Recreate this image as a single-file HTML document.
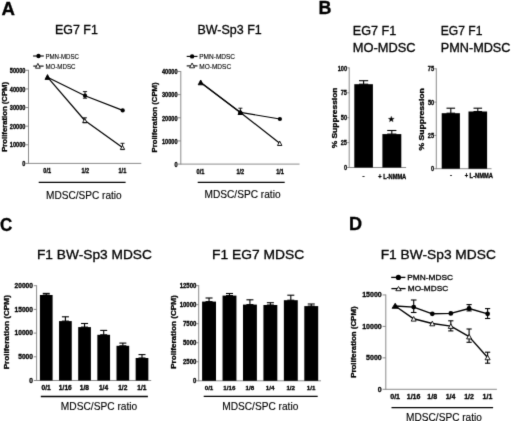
<!DOCTYPE html><html><head><meta charset="utf-8"><style>html,body{margin:0;padding:0;background:#fff;width:520px;height:421px;overflow:hidden}svg{display:block}#w{filter:grayscale(1)}text{font-family:"Liberation Sans",sans-serif;fill:#000;stroke:#000}</style></head><body>
<div id="w"><svg width="520" height="421" viewBox="0 0 520 421">
<defs><filter id="bl" x="0" y="0" width="520" height="421" filterUnits="userSpaceOnUse" color-interpolation-filters="sRGB"><feConvolveMatrix order="3" kernelMatrix="0.0113 0.0838 0.0113 0.0838 0.6193 0.0838 0.0113 0.0838 0.0113" edgeMode="duplicate"/></filter></defs>
<g filter="url(#bl)">
<rect width="520" height="421" fill="#fff"/>
<text x="1.64" y="14.60" font-size="18.2" font-weight="bold" textLength="13.46" lengthAdjust="spacingAndGlyphs" stroke-width="0.3">A</text>
<text x="318.60" y="13.70" font-size="18.2" font-weight="bold" textLength="12.91" lengthAdjust="spacingAndGlyphs" stroke-width="0.3">B</text>
<text x="0.00" y="230.70" font-size="18.2" font-weight="bold" textLength="12.26" lengthAdjust="spacingAndGlyphs" stroke-width="0.3">C</text>
<text x="349.09" y="230.30" font-size="18.2" font-weight="bold" textLength="13.07" lengthAdjust="spacingAndGlyphs" stroke-width="0.3">D</text>
<text x="54.98" y="33.70" font-size="12.8" textLength="42.83" lengthAdjust="spacingAndGlyphs" stroke-width="0.3">EG7 F1</text>
<line x1="28.50" y1="163.85" x2="28.50" y2="69.85" stroke="#858585" stroke-width="0.95"/>
<line x1="25.60" y1="163.40" x2="28.50" y2="163.40" stroke="#858585" stroke-width="0.95"/>
<text x="22.31" y="166.11" font-size="6.6" font-weight="bold" textLength="3.12" lengthAdjust="spacingAndGlyphs" stroke-width="0.3">0</text>
<line x1="25.60" y1="144.78" x2="28.50" y2="144.78" stroke="#858585" stroke-width="0.95"/>
<text x="9.83" y="147.49" font-size="6.6" font-weight="bold" textLength="15.60" lengthAdjust="spacingAndGlyphs" stroke-width="0.3">10000</text>
<line x1="25.60" y1="126.16" x2="28.50" y2="126.16" stroke="#858585" stroke-width="0.95"/>
<text x="9.83" y="128.87" font-size="6.6" font-weight="bold" textLength="15.60" lengthAdjust="spacingAndGlyphs" stroke-width="0.3">20000</text>
<line x1="25.60" y1="107.54" x2="28.50" y2="107.54" stroke="#858585" stroke-width="0.95"/>
<text x="9.83" y="110.25" font-size="6.6" font-weight="bold" textLength="15.60" lengthAdjust="spacingAndGlyphs" stroke-width="0.3">30000</text>
<line x1="25.60" y1="88.92" x2="28.50" y2="88.92" stroke="#858585" stroke-width="0.95"/>
<text x="9.83" y="91.63" font-size="6.6" font-weight="bold" textLength="15.60" lengthAdjust="spacingAndGlyphs" stroke-width="0.3">40000</text>
<line x1="25.60" y1="70.30" x2="28.50" y2="70.30" stroke="#858585" stroke-width="0.95"/>
<text x="9.83" y="73.01" font-size="6.6" font-weight="bold" textLength="15.60" lengthAdjust="spacingAndGlyphs" stroke-width="0.3">50000</text>
<line x1="28.50" y1="163.40" x2="141.30" y2="163.40" stroke="#858585" stroke-width="0.95"/>
<text x="43.37" y="173.40" font-size="6.6" font-weight="bold" textLength="7.80" lengthAdjust="spacingAndGlyphs" stroke-width="0.3">0/1</text>
<text x="81.44" y="173.40" font-size="6.6" font-weight="bold" textLength="7.80" lengthAdjust="spacingAndGlyphs" stroke-width="0.3">1/2</text>
<text x="118.50" y="173.40" font-size="6.6" font-weight="bold" textLength="7.80" lengthAdjust="spacingAndGlyphs" stroke-width="0.3">1/1</text>
<line x1="38.70" y1="182.30" x2="125.60" y2="182.30" stroke="#000" stroke-width="1.2"/>
<text x="45.97" y="198.50" font-size="10.2" textLength="75.75" lengthAdjust="spacingAndGlyphs" stroke-width="0.12">MDSC/SPC ratio</text>
<text x="7.40" y="151.82" font-size="7.2" font-weight="bold" textLength="69.90" lengthAdjust="spacingAndGlyphs" stroke-width="0.3" transform="rotate(-90 7.40 151.82)">Proliferation (CPM)</text>
<line x1="33.10" y1="56.00" x2="43.80" y2="56.00" stroke="#000" stroke-width="1.1"/>
<circle cx="38.50" cy="56.00" r="2.2" fill="#000"/>
<text x="45.40" y="58.70" font-size="7.2" textLength="33.63" lengthAdjust="spacingAndGlyphs" stroke-width="0.12">PMN-MDSC</text>
<line x1="33.30" y1="66.10" x2="43.60" y2="66.10" stroke="#000" stroke-width="1.1"/>
<polygon points="37.90,63.40 35.50,68.20 40.30,68.20" fill="#fff" stroke="#000" stroke-width="0.85" stroke-linejoin="miter"/>
<text x="45.40" y="68.60" font-size="7.2" textLength="30.04" lengthAdjust="spacingAndGlyphs" stroke-width="0.12">MO-MDSC</text>
<polyline points="47.50,77.20 85.00,95.70 122.70,110.40" fill="none" stroke="#000" stroke-width="1.2" stroke-linejoin="round"/>
<polyline points="47.50,77.20 84.80,120.50 122.50,147.40" fill="none" stroke="#000" stroke-width="1.2" stroke-linejoin="round"/>
<line x1="85.00" y1="91.60" x2="85.00" y2="98.20" stroke="#000" stroke-width="0.9"/>
<line x1="82.90" y1="91.60" x2="87.10" y2="91.60" stroke="#000" stroke-width="0.9"/>
<line x1="82.90" y1="98.20" x2="87.10" y2="98.20" stroke="#000" stroke-width="0.9"/>
<line x1="84.80" y1="117.80" x2="84.80" y2="122.80" stroke="#000" stroke-width="0.9"/>
<line x1="82.70" y1="117.80" x2="86.90" y2="117.80" stroke="#000" stroke-width="0.9"/>
<line x1="82.70" y1="122.80" x2="86.90" y2="122.80" stroke="#000" stroke-width="0.9"/>
<line x1="122.50" y1="143.30" x2="122.50" y2="149.60" stroke="#000" stroke-width="0.9"/>
<line x1="120.50" y1="143.30" x2="124.50" y2="143.30" stroke="#000" stroke-width="0.9"/>
<line x1="120.50" y1="149.60" x2="124.50" y2="149.60" stroke="#000" stroke-width="0.9"/>
<polygon points="84.80,118.50 82.70,122.50 86.90,122.50" fill="#fff" stroke="#000" stroke-width="0.9" stroke-linejoin="miter"/>
<polygon points="122.50,145.40 120.40,149.40 124.60,149.40" fill="#fff" stroke="#000" stroke-width="0.9" stroke-linejoin="miter"/>
<polygon points="47.50,74.60 45.00,79.40 50.00,79.40" fill="#000" stroke="#000" stroke-width="0.9" stroke-linejoin="miter"/>
<circle cx="85.00" cy="95.70" r="2.1" fill="#000"/>
<circle cx="122.70" cy="110.40" r="2.1" fill="#000"/>
<text x="197.48" y="33.80" font-size="12.8" textLength="64.23" lengthAdjust="spacingAndGlyphs" stroke-width="0.3">BW-Sp3 F1</text>
<line x1="180.80" y1="164.55" x2="180.80" y2="71.05" stroke="#858585" stroke-width="0.95"/>
<line x1="177.80" y1="164.10" x2="180.80" y2="164.10" stroke="#858585" stroke-width="0.95"/>
<text x="174.41" y="166.81" font-size="6.6" font-weight="bold" textLength="3.12" lengthAdjust="spacingAndGlyphs" stroke-width="0.3">0</text>
<line x1="177.80" y1="140.95" x2="180.80" y2="140.95" stroke="#858585" stroke-width="0.95"/>
<text x="161.93" y="143.66" font-size="6.6" font-weight="bold" textLength="15.60" lengthAdjust="spacingAndGlyphs" stroke-width="0.3">10000</text>
<line x1="177.80" y1="117.80" x2="180.80" y2="117.80" stroke="#858585" stroke-width="0.95"/>
<text x="161.93" y="120.51" font-size="6.6" font-weight="bold" textLength="15.60" lengthAdjust="spacingAndGlyphs" stroke-width="0.3">20000</text>
<line x1="177.80" y1="94.65" x2="180.80" y2="94.65" stroke="#858585" stroke-width="0.95"/>
<text x="161.93" y="97.36" font-size="6.6" font-weight="bold" textLength="15.60" lengthAdjust="spacingAndGlyphs" stroke-width="0.3">30000</text>
<line x1="177.80" y1="71.50" x2="180.80" y2="71.50" stroke="#858585" stroke-width="0.95"/>
<text x="161.93" y="74.21" font-size="6.6" font-weight="bold" textLength="15.60" lengthAdjust="spacingAndGlyphs" stroke-width="0.3">40000</text>
<line x1="180.80" y1="164.10" x2="299.50" y2="164.10" stroke="#858585" stroke-width="0.95"/>
<text x="196.57" y="173.60" font-size="6.6" font-weight="bold" textLength="7.80" lengthAdjust="spacingAndGlyphs" stroke-width="0.3">0/1</text>
<text x="236.44" y="173.60" font-size="6.6" font-weight="bold" textLength="7.80" lengthAdjust="spacingAndGlyphs" stroke-width="0.3">1/2</text>
<text x="276.20" y="173.60" font-size="6.6" font-weight="bold" textLength="7.80" lengthAdjust="spacingAndGlyphs" stroke-width="0.3">1/1</text>
<line x1="197.70" y1="182.40" x2="284.70" y2="182.40" stroke="#000" stroke-width="1.2"/>
<text x="204.47" y="198.30" font-size="10.2" textLength="76.06" lengthAdjust="spacingAndGlyphs" stroke-width="0.12">MDSC/SPC ratio</text>
<text x="157.50" y="152.52" font-size="7.2" font-weight="bold" textLength="70.10" lengthAdjust="spacingAndGlyphs" stroke-width="0.3" transform="rotate(-90 157.50 152.52)">Proliferation (CPM)</text>
<line x1="186.70" y1="56.40" x2="197.50" y2="56.40" stroke="#000" stroke-width="1.1"/>
<circle cx="192.10" cy="56.40" r="2.2" fill="#000"/>
<text x="199.27" y="59.00" font-size="7.2" textLength="35.78" lengthAdjust="spacingAndGlyphs" stroke-width="0.12">PMN-MDSC</text>
<line x1="186.70" y1="65.90" x2="197.50" y2="65.90" stroke="#000" stroke-width="1.1"/>
<polygon points="192.10,63.00 189.60,67.80 194.60,67.80" fill="#fff" stroke="#000" stroke-width="0.85" stroke-linejoin="miter"/>
<text x="199.26" y="68.50" font-size="7.2" textLength="31.88" lengthAdjust="spacingAndGlyphs" stroke-width="0.12">MO-MDSC</text>
<polyline points="200.70,82.50 240.40,112.40 279.90,119.00" fill="none" stroke="#000" stroke-width="1.2" stroke-linejoin="round"/>
<polyline points="200.70,82.50 240.40,112.40 279.70,143.30" fill="none" stroke="#000" stroke-width="1.2" stroke-linejoin="round"/>
<line x1="240.40" y1="108.20" x2="240.40" y2="114.50" stroke="#000" stroke-width="0.9"/>
<line x1="238.40" y1="108.20" x2="242.40" y2="108.20" stroke="#000" stroke-width="0.9"/>
<line x1="238.40" y1="114.50" x2="242.40" y2="114.50" stroke="#000" stroke-width="0.9"/>
<polygon points="279.70,141.10 277.50,145.50 281.90,145.50" fill="#fff" stroke="#000" stroke-width="0.9" stroke-linejoin="miter"/>
<polygon points="200.70,80.00 198.20,84.80 203.20,84.80" fill="#000" stroke="#000" stroke-width="0.9" stroke-linejoin="miter"/>
<polygon points="240.40,109.90 238.00,114.50 242.80,114.50" fill="#000" stroke="#000" stroke-width="0.9" stroke-linejoin="miter"/>
<circle cx="279.90" cy="119.00" r="2.1" fill="#000"/>
<circle cx="240.40" cy="112.60" r="2.1" fill="#000"/>
<text x="352.76" y="34.90" font-size="12.3" textLength="43.55" lengthAdjust="spacingAndGlyphs" stroke-width="0.3">EG7 F1</text>
<text x="352.75" y="51.80" font-size="12.3" textLength="62.84" lengthAdjust="spacingAndGlyphs" stroke-width="0.3">MO-MDSC</text>
<line x1="349.20" y1="167.95" x2="349.20" y2="67.45" stroke="#858585" stroke-width="0.95"/>
<line x1="347.20" y1="167.50" x2="349.20" y2="167.50" stroke="#858585" stroke-width="0.95"/>
<text x="343.92" y="170.15" font-size="7.0" font-weight="bold" textLength="3.11" lengthAdjust="spacingAndGlyphs" stroke-width="0.3">0</text>
<line x1="347.20" y1="142.60" x2="349.20" y2="142.60" stroke="#858585" stroke-width="0.95"/>
<text x="340.73" y="145.25" font-size="7.0" font-weight="bold" textLength="6.23" lengthAdjust="spacingAndGlyphs" stroke-width="0.3">25</text>
<line x1="347.20" y1="117.70" x2="349.20" y2="117.70" stroke="#858585" stroke-width="0.95"/>
<text x="340.80" y="120.35" font-size="7.0" font-weight="bold" textLength="6.23" lengthAdjust="spacingAndGlyphs" stroke-width="0.3">50</text>
<line x1="347.20" y1="92.80" x2="349.20" y2="92.80" stroke="#858585" stroke-width="0.95"/>
<text x="340.73" y="95.45" font-size="7.0" font-weight="bold" textLength="6.23" lengthAdjust="spacingAndGlyphs" stroke-width="0.3">75</text>
<line x1="347.20" y1="67.90" x2="349.20" y2="67.90" stroke="#858585" stroke-width="0.95"/>
<text x="337.69" y="70.55" font-size="7.0" font-weight="bold" textLength="9.34" lengthAdjust="spacingAndGlyphs" stroke-width="0.3">100</text>
<line x1="349.20" y1="167.50" x2="406.10" y2="167.50" stroke="#858585" stroke-width="0.95"/>
<rect x="354.30" y="84.20" width="18.60" height="83.30" fill="#000"/>
<line x1="363.60" y1="80.70" x2="363.60" y2="84.20" stroke="#000" stroke-width="1.1"/>
<line x1="359.00" y1="80.70" x2="368.20" y2="80.70" stroke="#000" stroke-width="1.1"/>
<line x1="359.00" y1="84.20" x2="368.20" y2="84.20" stroke="#000" stroke-width="1.1"/>
<rect x="382.40" y="134.10" width="18.90" height="33.40" fill="#000"/>
<line x1="391.80" y1="130.50" x2="391.80" y2="134.10" stroke="#000" stroke-width="1.1"/>
<line x1="387.20" y1="130.50" x2="396.40" y2="130.50" stroke="#000" stroke-width="1.1"/>
<line x1="387.20" y1="134.10" x2="396.40" y2="134.10" stroke="#000" stroke-width="1.1"/>
<polygon points="391.30,116.20 390.54,118.25 388.35,118.34 390.06,119.70 389.48,121.81 391.30,120.60 393.12,121.81 392.54,119.70 394.25,118.34 392.06,118.25" fill="#000" stroke="#000" stroke-width="0.3" stroke-linejoin="round"/>
<text x="362.40" y="177.80" font-size="6.0" font-weight="bold" textLength="2.00" lengthAdjust="spacingAndGlyphs" stroke-width="0.3">-</text>
<text x="378.26" y="178.60" font-size="6.8" font-weight="bold" textLength="27.99" lengthAdjust="spacingAndGlyphs" stroke-width="0.3">+ L-NMMA</text>
<text x="336.90" y="148.31" font-size="6.8" font-weight="bold" textLength="60.83" lengthAdjust="spacingAndGlyphs" stroke-width="0.3" transform="rotate(-90 336.90 148.31)">% Suppression</text>
<text x="440.81" y="34.90" font-size="12.3" textLength="41.68" lengthAdjust="spacingAndGlyphs" stroke-width="0.3">EG7 F1</text>
<text x="440.76" y="51.70" font-size="12.3" textLength="69.72" lengthAdjust="spacingAndGlyphs" stroke-width="0.3">PMN-MDSC</text>
<line x1="436.30" y1="169.15" x2="436.30" y2="68.35" stroke="#858585" stroke-width="0.95"/>
<line x1="434.20" y1="168.70" x2="436.30" y2="168.70" stroke="#858585" stroke-width="0.95"/>
<text x="431.02" y="171.35" font-size="7.0" font-weight="bold" textLength="3.11" lengthAdjust="spacingAndGlyphs" stroke-width="0.3">0</text>
<line x1="434.20" y1="135.40" x2="436.30" y2="135.40" stroke="#858585" stroke-width="0.95"/>
<text x="427.83" y="138.05" font-size="7.0" font-weight="bold" textLength="6.23" lengthAdjust="spacingAndGlyphs" stroke-width="0.3">25</text>
<line x1="434.20" y1="102.10" x2="436.30" y2="102.10" stroke="#858585" stroke-width="0.95"/>
<text x="427.90" y="104.75" font-size="7.0" font-weight="bold" textLength="6.23" lengthAdjust="spacingAndGlyphs" stroke-width="0.3">50</text>
<line x1="434.20" y1="68.80" x2="436.30" y2="68.80" stroke="#858585" stroke-width="0.95"/>
<text x="427.83" y="71.45" font-size="7.0" font-weight="bold" textLength="6.23" lengthAdjust="spacingAndGlyphs" stroke-width="0.3">75</text>
<line x1="436.30" y1="168.70" x2="491.50" y2="168.70" stroke="#858585" stroke-width="0.95"/>
<rect x="441.70" y="113.20" width="18.20" height="55.50" fill="#000"/>
<line x1="450.80" y1="108.20" x2="450.80" y2="113.20" stroke="#000" stroke-width="1.1"/>
<line x1="446.50" y1="108.20" x2="455.10" y2="108.20" stroke="#000" stroke-width="1.1"/>
<line x1="446.50" y1="113.20" x2="455.10" y2="113.20" stroke="#000" stroke-width="1.1"/>
<rect x="468.50" y="111.50" width="18.60" height="57.20" fill="#000"/>
<line x1="477.80" y1="108.20" x2="477.80" y2="111.50" stroke="#000" stroke-width="1.1"/>
<line x1="473.50" y1="108.20" x2="482.10" y2="108.20" stroke="#000" stroke-width="1.1"/>
<line x1="473.50" y1="111.50" x2="482.10" y2="111.50" stroke="#000" stroke-width="1.1"/>
<text x="450.10" y="177.00" font-size="6.0" font-weight="bold" textLength="2.00" lengthAdjust="spacingAndGlyphs" stroke-width="0.3">-</text>
<text x="464.66" y="177.70" font-size="6.8" font-weight="bold" textLength="28.29" lengthAdjust="spacingAndGlyphs" stroke-width="0.3">+ L-NMMA</text>
<text x="424.00" y="150.51" font-size="6.8" font-weight="bold" textLength="62.35" lengthAdjust="spacingAndGlyphs" stroke-width="0.3" transform="rotate(-90 424.00 150.51)">% Suppression</text>
<text x="36.98" y="258.60" font-size="13.2" textLength="114.95" lengthAdjust="spacingAndGlyphs" stroke-width="0.3">F1 BW-Sp3 MDSC</text>
<line x1="36.60" y1="380.95" x2="36.60" y2="285.25" stroke="#858585" stroke-width="0.95"/>
<line x1="33.80" y1="380.50" x2="36.60" y2="380.50" stroke="#858585" stroke-width="0.95"/>
<text x="29.30" y="382.81" font-size="6.6" font-weight="bold" textLength="3.67" lengthAdjust="spacingAndGlyphs" stroke-width="0.3">0</text>
<line x1="33.80" y1="356.80" x2="36.60" y2="356.80" stroke="#858585" stroke-width="0.95"/>
<text x="18.29" y="359.11" font-size="6.6" font-weight="bold" textLength="14.68" lengthAdjust="spacingAndGlyphs" stroke-width="0.3">5000</text>
<line x1="33.80" y1="333.10" x2="36.60" y2="333.10" stroke="#858585" stroke-width="0.95"/>
<text x="14.62" y="335.41" font-size="6.6" font-weight="bold" textLength="18.35" lengthAdjust="spacingAndGlyphs" stroke-width="0.3">10000</text>
<line x1="33.80" y1="309.40" x2="36.60" y2="309.40" stroke="#858585" stroke-width="0.95"/>
<text x="14.62" y="311.71" font-size="6.6" font-weight="bold" textLength="18.35" lengthAdjust="spacingAndGlyphs" stroke-width="0.3">15000</text>
<line x1="33.80" y1="285.70" x2="36.60" y2="285.70" stroke="#858585" stroke-width="0.95"/>
<text x="14.62" y="288.01" font-size="6.6" font-weight="bold" textLength="18.35" lengthAdjust="spacingAndGlyphs" stroke-width="0.3">20000</text>
<line x1="36.60" y1="380.50" x2="151.20" y2="380.50" stroke="#858585" stroke-width="0.95"/>
<rect x="39.90" y="295.00" width="12.70" height="85.50" fill="#000"/>
<line x1="46.25" y1="293.40" x2="46.25" y2="295.00" stroke="#000" stroke-width="1.1"/>
<line x1="42.75" y1="293.40" x2="49.75" y2="293.40" stroke="#000" stroke-width="1.1"/>
<line x1="42.75" y1="295.00" x2="49.75" y2="295.00" stroke="#000" stroke-width="1.1"/>
<text x="41.62" y="390.10" font-size="6.6" font-weight="bold" textLength="9.17" lengthAdjust="spacingAndGlyphs" stroke-width="0.3">0/1</text>
<rect x="59.05" y="321.10" width="12.70" height="59.40" fill="#000"/>
<line x1="65.40" y1="316.80" x2="65.40" y2="321.10" stroke="#000" stroke-width="1.1"/>
<line x1="61.90" y1="316.80" x2="68.90" y2="316.80" stroke="#000" stroke-width="1.1"/>
<line x1="61.90" y1="321.10" x2="68.90" y2="321.10" stroke="#000" stroke-width="1.1"/>
<text x="58.89" y="390.10" font-size="6.6" font-weight="bold" textLength="12.85" lengthAdjust="spacingAndGlyphs" stroke-width="0.3">1/16</text>
<rect x="78.20" y="327.10" width="12.70" height="53.40" fill="#000"/>
<line x1="84.55" y1="323.50" x2="84.55" y2="327.10" stroke="#000" stroke-width="1.1"/>
<line x1="81.05" y1="323.50" x2="88.05" y2="323.50" stroke="#000" stroke-width="1.1"/>
<line x1="81.05" y1="327.10" x2="88.05" y2="327.10" stroke="#000" stroke-width="1.1"/>
<text x="79.86" y="390.10" font-size="6.6" font-weight="bold" textLength="9.17" lengthAdjust="spacingAndGlyphs" stroke-width="0.3">1/8</text>
<rect x="97.35" y="334.80" width="12.70" height="45.70" fill="#000"/>
<line x1="103.70" y1="330.40" x2="103.70" y2="334.80" stroke="#000" stroke-width="1.1"/>
<line x1="100.20" y1="330.40" x2="107.20" y2="330.40" stroke="#000" stroke-width="1.1"/>
<line x1="100.20" y1="334.80" x2="107.20" y2="334.80" stroke="#000" stroke-width="1.1"/>
<text x="98.92" y="390.10" font-size="6.6" font-weight="bold" textLength="9.17" lengthAdjust="spacingAndGlyphs" stroke-width="0.3">1/4</text>
<rect x="116.50" y="345.80" width="12.70" height="34.70" fill="#000"/>
<line x1="122.85" y1="343.10" x2="122.85" y2="345.80" stroke="#000" stroke-width="1.1"/>
<line x1="119.35" y1="343.10" x2="126.35" y2="343.10" stroke="#000" stroke-width="1.1"/>
<line x1="119.35" y1="345.80" x2="126.35" y2="345.80" stroke="#000" stroke-width="1.1"/>
<text x="118.19" y="390.10" font-size="6.6" font-weight="bold" textLength="9.17" lengthAdjust="spacingAndGlyphs" stroke-width="0.3">1/2</text>
<rect x="135.65" y="358.00" width="12.70" height="22.50" fill="#000"/>
<line x1="142.00" y1="354.60" x2="142.00" y2="358.00" stroke="#000" stroke-width="1.1"/>
<line x1="138.50" y1="354.60" x2="145.50" y2="354.60" stroke="#000" stroke-width="1.1"/>
<line x1="138.50" y1="358.00" x2="145.50" y2="358.00" stroke="#000" stroke-width="1.1"/>
<text x="137.30" y="390.10" font-size="6.6" font-weight="bold" textLength="9.17" lengthAdjust="spacingAndGlyphs" stroke-width="0.3">1/1</text>
<line x1="40.80" y1="396.50" x2="147.90" y2="396.50" stroke="#000" stroke-width="1.3"/>
<text x="60.86" y="409.80" font-size="10.2" textLength="76.36" lengthAdjust="spacingAndGlyphs" stroke-width="0.12">MDSC/SPC ratio</text>
<text x="9.00" y="369.35" font-size="7.1" font-weight="bold" textLength="74.26" lengthAdjust="spacingAndGlyphs" stroke-width="0.3" transform="rotate(-90 9.00 369.35)">Proliferation (CPM)</text>
<text x="211.96" y="258.60" font-size="13.2" textLength="92.26" lengthAdjust="spacingAndGlyphs" stroke-width="0.3">F1 EG7 MDSC</text>
<line x1="198.70" y1="381.25" x2="198.70" y2="285.20" stroke="#858585" stroke-width="0.95"/>
<line x1="196.30" y1="380.80" x2="198.70" y2="380.80" stroke="#858585" stroke-width="0.95"/>
<text x="193.02" y="383.00" font-size="6.3" font-weight="bold" textLength="3.33" lengthAdjust="spacingAndGlyphs" stroke-width="0.3">0</text>
<line x1="196.30" y1="361.77" x2="198.70" y2="361.77" stroke="#858585" stroke-width="0.95"/>
<text x="183.03" y="363.97" font-size="6.3" font-weight="bold" textLength="13.31" lengthAdjust="spacingAndGlyphs" stroke-width="0.3">2500</text>
<line x1="196.30" y1="342.74" x2="198.70" y2="342.74" stroke="#858585" stroke-width="0.95"/>
<text x="183.03" y="344.94" font-size="6.3" font-weight="bold" textLength="13.31" lengthAdjust="spacingAndGlyphs" stroke-width="0.3">5000</text>
<line x1="196.30" y1="323.71" x2="198.70" y2="323.71" stroke="#858585" stroke-width="0.95"/>
<text x="183.03" y="325.92" font-size="6.3" font-weight="bold" textLength="13.31" lengthAdjust="spacingAndGlyphs" stroke-width="0.3">7500</text>
<line x1="196.30" y1="304.68" x2="198.70" y2="304.68" stroke="#858585" stroke-width="0.95"/>
<text x="179.70" y="306.88" font-size="6.3" font-weight="bold" textLength="16.64" lengthAdjust="spacingAndGlyphs" stroke-width="0.3">10000</text>
<line x1="196.30" y1="285.65" x2="198.70" y2="285.65" stroke="#858585" stroke-width="0.95"/>
<text x="179.70" y="287.85" font-size="6.3" font-weight="bold" textLength="16.64" lengthAdjust="spacingAndGlyphs" stroke-width="0.3">12500</text>
<line x1="198.70" y1="380.80" x2="321.00" y2="380.80" stroke="#858585" stroke-width="0.95"/>
<rect x="202.10" y="301.60" width="13.90" height="79.20" fill="#000"/>
<line x1="209.05" y1="298.00" x2="209.05" y2="301.60" stroke="#000" stroke-width="1.1"/>
<line x1="205.55" y1="298.00" x2="212.55" y2="298.00" stroke="#000" stroke-width="1.1"/>
<line x1="205.55" y1="301.60" x2="212.55" y2="301.60" stroke="#000" stroke-width="1.1"/>
<text x="204.70" y="390.10" font-size="6.2" font-weight="bold" textLength="8.62" lengthAdjust="spacingAndGlyphs" stroke-width="0.3">0/1</text>
<rect x="222.54" y="295.60" width="13.90" height="85.20" fill="#000"/>
<line x1="229.49" y1="293.50" x2="229.49" y2="295.60" stroke="#000" stroke-width="1.1"/>
<line x1="225.99" y1="293.50" x2="232.99" y2="293.50" stroke="#000" stroke-width="1.1"/>
<line x1="225.99" y1="295.60" x2="232.99" y2="295.60" stroke="#000" stroke-width="1.1"/>
<text x="223.37" y="390.10" font-size="6.2" font-weight="bold" textLength="12.07" lengthAdjust="spacingAndGlyphs" stroke-width="0.3">1/16</text>
<rect x="242.98" y="304.60" width="13.90" height="76.20" fill="#000"/>
<line x1="249.93" y1="299.80" x2="249.93" y2="304.60" stroke="#000" stroke-width="1.1"/>
<line x1="246.43" y1="299.80" x2="253.43" y2="299.80" stroke="#000" stroke-width="1.1"/>
<line x1="246.43" y1="304.60" x2="253.43" y2="304.60" stroke="#000" stroke-width="1.1"/>
<text x="245.52" y="390.10" font-size="6.2" font-weight="bold" textLength="8.62" lengthAdjust="spacingAndGlyphs" stroke-width="0.3">1/8</text>
<rect x="263.42" y="305.00" width="13.90" height="75.80" fill="#000"/>
<line x1="270.37" y1="302.70" x2="270.37" y2="305.00" stroke="#000" stroke-width="1.1"/>
<line x1="266.87" y1="302.70" x2="273.87" y2="302.70" stroke="#000" stroke-width="1.1"/>
<line x1="266.87" y1="305.00" x2="273.87" y2="305.00" stroke="#000" stroke-width="1.1"/>
<text x="265.88" y="390.10" font-size="6.2" font-weight="bold" textLength="8.62" lengthAdjust="spacingAndGlyphs" stroke-width="0.3">1/4</text>
<rect x="283.86" y="300.20" width="13.90" height="80.60" fill="#000"/>
<line x1="290.81" y1="295.20" x2="290.81" y2="300.20" stroke="#000" stroke-width="1.1"/>
<line x1="287.31" y1="295.20" x2="294.31" y2="295.20" stroke="#000" stroke-width="1.1"/>
<line x1="287.31" y1="300.20" x2="294.31" y2="300.20" stroke="#000" stroke-width="1.1"/>
<text x="286.43" y="390.10" font-size="6.2" font-weight="bold" textLength="8.62" lengthAdjust="spacingAndGlyphs" stroke-width="0.3">1/2</text>
<rect x="304.30" y="306.10" width="13.90" height="74.70" fill="#000"/>
<line x1="311.25" y1="304.00" x2="311.25" y2="306.10" stroke="#000" stroke-width="1.1"/>
<line x1="307.75" y1="304.00" x2="314.75" y2="304.00" stroke="#000" stroke-width="1.1"/>
<line x1="307.75" y1="306.10" x2="314.75" y2="306.10" stroke="#000" stroke-width="1.1"/>
<text x="306.83" y="390.10" font-size="6.2" font-weight="bold" textLength="8.62" lengthAdjust="spacingAndGlyphs" stroke-width="0.3">1/1</text>
<line x1="203.70" y1="396.40" x2="317.70" y2="396.40" stroke="#000" stroke-width="1.3"/>
<text x="222.27" y="409.90" font-size="10.2" textLength="76.06" lengthAdjust="spacingAndGlyphs" stroke-width="0.12">MDSC/SPC ratio</text>
<text x="176.20" y="368.84" font-size="7.1" font-weight="bold" textLength="73.55" lengthAdjust="spacingAndGlyphs" stroke-width="0.3" transform="rotate(-90 176.20 368.84)">Proliferation (CPM)</text>
<text x="380.67" y="259.20" font-size="13.2" textLength="115.25" lengthAdjust="spacingAndGlyphs" stroke-width="0.3">F1 BW-Sp3 MDSC</text>
<line x1="385.80" y1="389.75" x2="385.80" y2="294.50" stroke="#858585" stroke-width="0.95"/>
<line x1="382.60" y1="389.30" x2="385.80" y2="389.30" stroke="#858585" stroke-width="0.95"/>
<text x="377.79" y="391.75" font-size="7.0" font-weight="bold" textLength="3.89" lengthAdjust="spacingAndGlyphs" stroke-width="0.3">0</text>
<line x1="382.60" y1="357.85" x2="385.80" y2="357.85" stroke="#858585" stroke-width="0.95"/>
<text x="366.11" y="360.30" font-size="7.0" font-weight="bold" textLength="15.57" lengthAdjust="spacingAndGlyphs" stroke-width="0.3">5000</text>
<line x1="382.60" y1="326.40" x2="385.80" y2="326.40" stroke="#858585" stroke-width="0.95"/>
<text x="362.22" y="328.85" font-size="7.0" font-weight="bold" textLength="19.47" lengthAdjust="spacingAndGlyphs" stroke-width="0.3">10000</text>
<line x1="382.60" y1="294.95" x2="385.80" y2="294.95" stroke="#858585" stroke-width="0.95"/>
<text x="362.22" y="297.40" font-size="7.0" font-weight="bold" textLength="19.47" lengthAdjust="spacingAndGlyphs" stroke-width="0.3">15000</text>
<line x1="385.80" y1="389.30" x2="496.90" y2="389.30" stroke="#858585" stroke-width="0.95"/>
<text x="390.29" y="399.30" font-size="7.0" font-weight="bold" textLength="9.73" lengthAdjust="spacingAndGlyphs" stroke-width="0.3">0/1</text>
<text x="406.79" y="399.30" font-size="7.0" font-weight="bold" textLength="13.62" lengthAdjust="spacingAndGlyphs" stroke-width="0.3">1/16</text>
<text x="427.32" y="399.30" font-size="7.0" font-weight="bold" textLength="9.73" lengthAdjust="spacingAndGlyphs" stroke-width="0.3">1/8</text>
<text x="445.73" y="399.30" font-size="7.0" font-weight="bold" textLength="9.73" lengthAdjust="spacingAndGlyphs" stroke-width="0.3">1/4</text>
<text x="464.15" y="399.30" font-size="7.0" font-weight="bold" textLength="9.73" lengthAdjust="spacingAndGlyphs" stroke-width="0.3">1/2</text>
<text x="482.61" y="399.30" font-size="7.0" font-weight="bold" textLength="9.73" lengthAdjust="spacingAndGlyphs" stroke-width="0.3">1/1</text>
<line x1="391.50" y1="407.60" x2="493.10" y2="407.60" stroke="#000" stroke-width="1.3"/>
<text x="406.07" y="421.00" font-size="10.2" textLength="75.85" lengthAdjust="spacingAndGlyphs" stroke-width="0.12">MDSC/SPC ratio</text>
<text x="355.90" y="377.83" font-size="7.0" font-weight="bold" textLength="71.42" lengthAdjust="spacingAndGlyphs" stroke-width="0.3" transform="rotate(-90 355.90 377.83)">Proliferation (CPM)</text>
<line x1="391.20" y1="277.40" x2="405.40" y2="277.40" stroke="#000" stroke-width="1.3"/>
<circle cx="398.40" cy="277.40" r="2.6" fill="#000"/>
<text x="407.32" y="279.90" font-size="8.0" textLength="45.80" lengthAdjust="spacingAndGlyphs" stroke-width="0.3">PMN-MDSC</text>
<line x1="391.40" y1="288.60" x2="405.60" y2="288.60" stroke="#000" stroke-width="1.3"/>
<polygon points="398.50,286.50 395.80,290.70 401.20,290.70" fill="#fff" stroke="#000" stroke-width="0.9" stroke-linejoin="miter"/>
<text x="407.82" y="291.10" font-size="8.0" textLength="40.29" lengthAdjust="spacingAndGlyphs" stroke-width="0.3">MO-MDSC</text>
<polyline points="395.20,306.00 413.70,307.10 432.30,313.80 450.80,313.40 469.10,308.50 487.60,313.80" fill="none" stroke="#000" stroke-width="1.4" stroke-linejoin="round"/>
<polyline points="395.20,306.00 413.70,318.80 432.30,323.50 450.80,326.10 469.10,336.60 487.60,357.50" fill="none" stroke="#000" stroke-width="1.4" stroke-linejoin="round"/>
<line x1="413.70" y1="300.00" x2="413.70" y2="312.50" stroke="#000" stroke-width="1.1"/>
<line x1="410.90" y1="300.00" x2="416.50" y2="300.00" stroke="#000" stroke-width="1.1"/>
<line x1="410.90" y1="312.50" x2="416.50" y2="312.50" stroke="#000" stroke-width="1.1"/>
<line x1="469.10" y1="304.60" x2="469.10" y2="310.90" stroke="#000" stroke-width="1.1"/>
<line x1="466.50" y1="304.60" x2="471.70" y2="304.60" stroke="#000" stroke-width="1.1"/>
<line x1="466.50" y1="310.90" x2="471.70" y2="310.90" stroke="#000" stroke-width="1.1"/>
<line x1="487.60" y1="308.60" x2="487.60" y2="318.50" stroke="#000" stroke-width="1.1"/>
<line x1="485.00" y1="308.60" x2="490.20" y2="308.60" stroke="#000" stroke-width="1.1"/>
<line x1="485.00" y1="318.50" x2="490.20" y2="318.50" stroke="#000" stroke-width="1.1"/>
<line x1="450.80" y1="320.80" x2="450.80" y2="330.90" stroke="#000" stroke-width="1.1"/>
<line x1="448.20" y1="320.80" x2="453.40" y2="320.80" stroke="#000" stroke-width="1.1"/>
<line x1="448.20" y1="330.90" x2="453.40" y2="330.90" stroke="#000" stroke-width="1.1"/>
<line x1="469.10" y1="329.00" x2="469.10" y2="342.30" stroke="#000" stroke-width="1.1"/>
<line x1="466.50" y1="329.00" x2="471.70" y2="329.00" stroke="#000" stroke-width="1.1"/>
<line x1="466.50" y1="342.30" x2="471.70" y2="342.30" stroke="#000" stroke-width="1.1"/>
<line x1="487.60" y1="352.20" x2="487.60" y2="363.20" stroke="#000" stroke-width="1.1"/>
<line x1="485.00" y1="352.20" x2="490.20" y2="352.20" stroke="#000" stroke-width="1.1"/>
<line x1="485.00" y1="363.20" x2="490.20" y2="363.20" stroke="#000" stroke-width="1.1"/>
<polygon points="413.70,316.50 411.20,321.10 416.20,321.10" fill="#fff" stroke="#000" stroke-width="0.9" stroke-linejoin="miter"/>
<polygon points="432.30,321.20 429.80,325.80 434.80,325.80" fill="#fff" stroke="#000" stroke-width="0.9" stroke-linejoin="miter"/>
<polygon points="450.80,323.80 448.30,328.40 453.30,328.40" fill="#fff" stroke="#000" stroke-width="0.9" stroke-linejoin="miter"/>
<polygon points="469.10,334.30 466.60,338.90 471.60,338.90" fill="#fff" stroke="#000" stroke-width="0.9" stroke-linejoin="miter"/>
<polygon points="487.60,355.20 485.10,359.80 490.10,359.80" fill="#fff" stroke="#000" stroke-width="0.9" stroke-linejoin="miter"/>
<polygon points="395.20,303.30 392.10,308.30 398.30,308.30" fill="#000" stroke="#000" stroke-width="0.9" stroke-linejoin="miter"/>
<circle cx="413.70" cy="307.10" r="2.4" fill="#000"/>
<circle cx="432.30" cy="313.80" r="2.4" fill="#000"/>
<circle cx="450.80" cy="313.40" r="2.4" fill="#000"/>
<circle cx="469.10" cy="308.50" r="2.4" fill="#000"/>
<circle cx="487.60" cy="313.80" r="2.4" fill="#000"/>
</g></svg></div></body></html>
